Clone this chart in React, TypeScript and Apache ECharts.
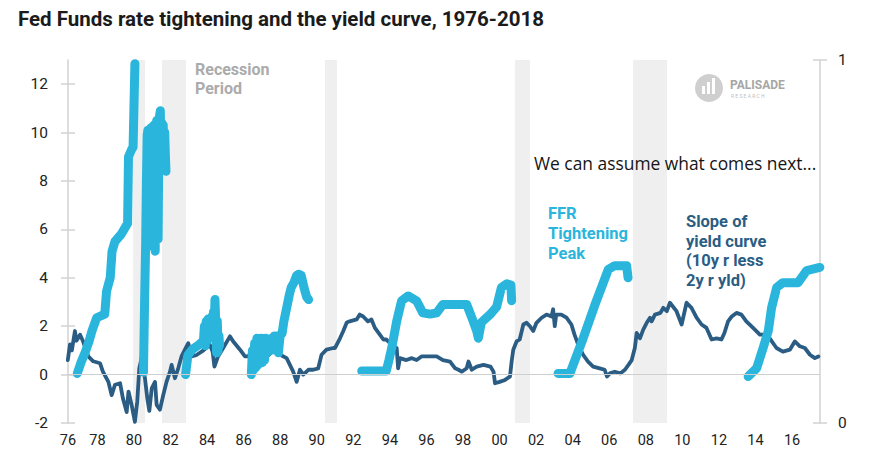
import React, { useEffect, useRef } from "react";
import * as echarts from "echarts";

const TITLE = "Fed Funds rate tightening and the yield curve, 1976-2018";
const X_MIN = 1976.39;
const X_MAX = 2017.53;
const xLabelYears = [1976.39, 1978, 1980, 1982, 1984, 1986, 1988, 1990, 1992, 1994, 1996, 1998, 2000, 2002, 2004, 2006, 2008, 2010, 2012, 2014, 2016];
const leftTicks = [-2, 0, 2, 4, 6, 8, 10, 12];
const rightTicks = [0, 1];

const recessionStarts = [1979.95, 1981.53, 1990.45, 2000.84, 2007.3];
const recessionEnds = [1980.6, 1982.85, 1991.1, 2001.66, 2009.16];

// Slope of yield curve (10y less 2y)
const spreadYears = [
  1976.38, 1976.5, 1976.6, 1976.77, 1976.85, 1977.05, 1977.2, 1977.5, 1977.77, 1978.14, 1978.3, 1978.6, 1978.78, 1978.96,
  1979.24, 1979.4, 1979.6, 1979.7, 1979.87, 1980.05, 1980.18, 1980.29, 1980.42, 1980.6, 1980.73, 1980.84, 1980.97,
  1981.15, 1981.24, 1981.42, 1981.6, 1981.78, 1981.97, 1982.06, 1982.24, 1982.42, 1982.6, 1982.8, 1982.97, 1983.15,
  1983.4, 1983.8, 1984.15, 1984.3, 1984.4, 1984.6, 1984.88, 1985.25, 1985.43, 1985.8, 1986.07, 1986.25, 1986.44,
  1986.8, 1987.2, 1987.5, 1987.8, 1988.0, 1988.35, 1988.71, 1988.9, 1989.08, 1989.26, 1989.54, 1989.8, 1990.08,
  1990.26, 1990.53, 1990.9, 1991.0, 1991.27, 1991.45, 1991.64, 1991.8, 1992.18, 1992.35, 1992.54, 1992.8, 1992.99,
  1993.18, 1993.45, 1993.64, 1993.8, 1994.1, 1994.37, 1994.45, 1994.55, 1994.9, 1995.2, 1995.46, 1995.73, 1996.0,
  1996.56, 1996.9, 1997.29, 1997.57, 1997.75, 1997.93, 1998.2, 1998.3, 1998.48, 1998.75, 1999.12, 1999.5, 1999.67,
  1999.75, 2000.0, 2000.3, 2000.57, 2000.66, 2000.75, 2000.93, 2001.1, 2001.3, 2001.48, 2001.66, 2001.84, 2002.02,
  2002.3, 2002.57, 2002.84, 2002.93, 2003.02, 2003.1, 2003.38, 2003.66, 2003.93, 2004.1, 2004.3, 2004.57, 2004.84,
  2005.12, 2005.48, 2005.75, 2005.88, 2006.03, 2006.3, 2006.6, 2006.86, 2007.05, 2007.23, 2007.4, 2007.5, 2007.68,
  2007.86, 2008.05, 2008.23, 2008.32, 2008.5, 2008.8, 2008.96, 2009.15, 2009.32, 2009.68, 2009.96, 2010.23, 2010.5,
  2010.78, 2011.05, 2011.32, 2011.6, 2011.87, 2012.14, 2012.3, 2012.5, 2012.7, 2012.96, 2013.23, 2013.5, 2013.87,
  2014.24, 2014.6, 2014.78, 2015.15, 2015.5, 2015.88, 2016.15, 2016.43, 2016.7, 2016.98, 2017.25, 2017.44
];
const spreadValues = [
  0.6, 1.25, 1.0, 1.8, 1.4, 1.65, 1.4, 0.75, 0.55, 0.47, 0.12, -0.3, -0.85, -0.42,
  -0.36, -1.0, -1.55, -0.7, -1.25, -1.95, -1.1, 0.26, 0.7, -0.15, -1.0, -1.5, -0.57,
  -0.3, -1.25, -1.45, -0.85, -0.3, 0.12, 0.4, -0.15, 0.26, 0.75, 1.05, 1.3, 0.75,
  0.8, 1.0, 1.24, 0.95, 0.33, 0.75, 1.1, 1.58, 1.37, 1.03, 0.75, 0.75, 0.95,
  0.9, 0.7, 0.9, 1.0, 0.82, 0.68, 0.12, -0.3, 0.2, 0.0, 0.2, 0.2, 0.26,
  0.82, 1.03, 1.1, 1.1, 1.5, 1.8, 2.15, 2.2, 2.28, 2.48, 2.4, 2.2, 2.28,
  1.93, 1.65, 1.45, 1.45, 1.24, 1.1, 0.26, 0.68, 0.6, 0.68, 0.6, 0.75, 0.75,
  0.75, 0.6, 0.54, 0.26, 0.2, 0.12, 0.26, 0.54, 0.2, 0.33, 0.4, 0.33, 0.12,
  -0.36, -0.3, -0.22, -0.08, 0.54, 1.03, 1.37, 1.45, 2.07, 2.14, 2.0, 1.8, 2.14,
  2.35, 2.48, 2.4, 2.7, 2.0, 2.48, 2.48, 2.35, 2.07, 1.65, 1.24, 0.82, 0.54,
  0.33, 0.26, 0.2, -0.08, 0.05, 0.12, 0.05, 0.2, 0.4, 0.6, 1.1, 1.72, 1.5,
  1.86, 2.14, 2.35, 2.2, 2.48, 2.55, 2.76, 2.62, 2.97, 2.62, 2.07, 2.97, 2.76,
  2.35, 2.07, 1.93, 1.45, 1.5, 1.45, 1.72, 2.2, 2.4, 2.55, 2.48, 2.2, 1.93,
  1.65, 1.65, 1.5, 1.1, 0.95, 1.03, 1.37, 1.17, 1.1, 0.82, 0.68, 0.75
];

// FFR tightening (change from cycle low); null separates cycles
const ffrYears = [
  1976.9, 1977.1, 1977.35, 1977.55, 1977.7, 1977.96, 1978.4, 1978.5, 1978.7, 1978.8, 1978.96, 1979.3, 1979.65, 1979.7,
  1979.87, 1979.95, 1980.05, 1980.3,
  1980.52, 1980.58, 1980.64, 1980.68, 1980.72, 1980.76, 1980.8, 1980.84, 1980.88, 1980.92, 1980.96, 1981.0, 1981.04,
  1981.08, 1981.12, 1981.16, 1981.2, 1981.24, 1981.28, 1981.32, 1981.36, 1981.4, 1981.44, 1981.48, 1981.52, 1981.56,
  1981.6, 1981.64, 1981.68, 1981.72, 1981.75, 1982.3,
  1982.82, 1982.95, 1983.2, 1983.5, 1983.8, 1983.85, 1983.9, 1983.95, 1984.0, 1984.05, 1984.1, 1984.15, 1984.2,
  1984.25, 1984.3, 1984.35, 1984.4, 1984.43, 1984.48, 1984.52, 1984.56, 1984.6, 1984.65, 1984.68, 1985.5,
  1986.42, 1986.48, 1986.54, 1986.6, 1986.66, 1986.72, 1986.78, 1986.84, 1986.9, 1986.96, 1987.02, 1987.08, 1987.14,
  1987.2, 1987.28, 1987.36, 1987.44, 1987.52, 1987.6, 1987.68, 1987.76, 1987.84, 1987.9, 1988.0, 1988.1, 1988.2,
  1988.35, 1988.5, 1988.6, 1988.75, 1988.9, 1989.0, 1989.15, 1989.3, 1989.45, 1989.55, 1991.0,
  1992.46, 1993.8, 1993.95, 1994.1, 1994.37, 1994.64, 1995.0, 1995.46, 1995.8, 1996.2, 1996.56, 1996.9, 1997.3,
  1998.2, 1998.56, 1998.75, 1998.84, 1999.0, 1999.5, 1999.84, 2000.1, 2000.4, 2000.62, 2000.66, 2002.0,
  2003.2, 2003.85, 2004.5, 2005.2, 2005.95, 2006.3, 2006.95, 2007.03, 2010.0,
  2013.6, 2014.06, 2014.42, 2014.7, 2014.88, 2015.16, 2015.5, 2016.33, 2016.8, 2017.52
];
const ffrChange = [
  0.05, 0.5, 0.96, 1.4, 1.8, 2.35, 2.5, 3.45, 4.0, 5.1, 5.5, 5.8, 6.25, 9.0,
  9.3, 9.4, 12.85, null,
  0.1, 3.0, 5.5, 8.0, 9.9, 10.1, 7.5, 5.5, 9.5, 10.2, 6.5, 5.3, 9.0,
  10.3, 7.0, 5.1, 8.5, 10.5, 7.5, 5.6, 9.5, 10.7, 10.9, 9.0, 10.4, 8.6,
  10.3, 8.8, 10.0, 9.0, 8.4, null,
  0.0, 0.8, 1.05, 1.2, 1.4, 2.0, 1.2, 2.2, 1.4, 2.3, 1.5, 2.2, 1.6,
  2.4, 1.8, 2.6, 2.2, 3.1, 2.0, 0.9, 2.2, 1.0, 1.6, 1.2, null,
  0.0, 1.0, 0.2, 1.3, 0.3, 1.5, 0.4, 1.4, 0.6, 1.5, 0.5, 1.2, 0.6,
  1.5, 0.9, 1.4, 1.0, 1.5, 1.1, 1.6, 1.0, 1.6, 0.9, 1.65, 1.7, 2.2,
  2.75, 3.3, 3.6, 3.8, 4.1, 4.15, 4.1, 3.6, 3.2, 3.1, null,
  0.15, 0.15, 0.6, 1.1, 2.2, 3.05, 3.25, 3.05, 2.55, 2.5, 2.55, 2.9, 2.9,
  2.9, 2.2, 1.8, 1.5, 2.15, 2.5, 2.8, 3.6, 3.75, 3.7, 3.05, null,
  0.05, 0.05, 1.35, 2.85, 4.35, 4.5, 4.5, 4.0, null,
  -0.08, 0.26, 1.1, 1.8, 2.76, 3.6, 3.8, 3.8, 4.3, 4.43
];

const DARK = "#2b5d84";
const LIGHT = "#2ab6dc";
const AXIS_GREY = "#d2d2d2";

export default function App() {
  const ref = useRef<HTMLDivElement>(null);

  useEffect(() => {
    if (!ref.current) return;
    document.body.style.margin = "0";
    const chart = echarts.init(ref.current, undefined, { renderer: "svg" });

    const spreadData = spreadYears.map((y, i) => [y, spreadValues[i]]);
    const ffrData = ffrYears.map((y, i) => [y, ffrChange[i] === null ? "-" : ffrChange[i]]);

    const option: any = {
      animation: false,
      backgroundColor: "#ffffff",
      textStyle: { fontFamily: "Roboto" },
      grid: { left: 68, right: 50, top: 60, bottom: 53, containLabel: false },
      xAxis: {
        type: "value",
        min: X_MIN,
        max: X_MAX,
        axisLine: { show: false },
        axisTick: { show: false },
        splitLine: { show: false },
        axisLabel: {
          customValues: xLabelYears,
          formatter: (v: number) => String(Math.round(v) % 100).padStart(2, "0"),
          color: "#222",
          fontSize: 14.5,
          fontFamily: "Roboto",
          margin: 10,
        },
      },
      yAxis: [
        {
          type: "value",
          position: "left",
          min: -2,
          max: 13,
          axisLine: { show: true, lineStyle: { color: AXIS_GREY, width: 1.5 } },
          axisTick: { show: true, length: 7, lineStyle: { color: AXIS_GREY, width: 1.5 }, customValues: leftTicks },
          axisLabel: { customValues: leftTicks, color: "#222", fontSize: 15.5, fontFamily: "Roboto", margin: 20 },
          splitLine: { show: false },
        },
        {
          type: "value",
          position: "right",
          min: 0,
          max: 1,
          axisLine: { show: true, lineStyle: { color: AXIS_GREY, width: 1.5 } },
          axisTick: { show: true, length: 7, lineStyle: { color: AXIS_GREY, width: 1.5 }, customValues: rightTicks },
          axisLabel: { customValues: rightTicks, color: "#222", fontSize: 15.5, fontFamily: "Roboto", margin: 18 },
          splitLine: { show: false },
        },
        {
          type: "value",
          position: "left",
          min: -2,
          max: 13,
          axisLine: { show: false },
          axisTick: { show: true, inside: true, length: 7, lineStyle: { color: AXIS_GREY, width: 1.5 }, customValues: leftTicks },
          axisLabel: { show: false },
          splitLine: { show: false },
        },
        {
          type: "value",
          position: "right",
          min: 0,
          max: 1,
          axisLine: { show: false },
          axisTick: { show: true, inside: true, length: 7, lineStyle: { color: AXIS_GREY, width: 1.5 }, customValues: rightTicks },
          axisLabel: { show: false },
          splitLine: { show: false },
        },
      ],
      series: [
        {
          name: "Recessions",
          type: "line",
          data: [],
          z: 1,
          silent: true,
          markArea: {
            silent: true,
            itemStyle: { color: "#efefef" },
            data: recessionStarts.map((s, i) => [{ xAxis: s }, { xAxis: recessionEnds[i] }]),
          },
        },
        {
          name: "Zero",
          type: "line",
          data: [],
          z: 2,
          silent: true,
          markLine: {
            silent: true,
            symbol: "none",
            label: { show: false },
            lineStyle: { color: "#cfcfcf", width: 1.2, type: "solid" },
            data: [{ yAxis: 0 }],
          },
        },
        {
          name: "Slope of yield curve",
          type: "line",
          data: spreadData,
          z: 3,
          symbol: "none",
          clip: false,
          lineStyle: { color: DARK, width: 3.8, join: "round", cap: "round" },
        },
        {
          name: "FFR Tightening",
          type: "line",
          data: ffrData,
          z: 4,
          symbol: "none",
          clip: false,
          connectNulls: false,
          lineStyle: { color: LIGHT, width: 9, join: "round", cap: "round" },
        },
      ],
      graphic: [
        {
          type: "text",
          left: 18,
          top: 8,
          z: 100,
          style: { text: TITLE, font: "bold 20.5px Roboto", fill: "#1b1b1b" },
        },
        {
          type: "text",
          left: 195,
          top: 60,
          z: 100,
          style: { text: "Recession\nPeriod", font: "bold 16px Roboto", fill: "#ababab", lineHeight: 19 },
        },
        {
          type: "text",
          left: 534,
          top: 154,
          z: 100,
          style: { text: "We can assume what comes next...", font: "17.4px 'Open Sans'", fill: "#151515" },
        },
        {
          type: "text",
          left: 548,
          top: 203,
          z: 100,
          style: { text: "FFR\nTightening\nPeak", font: "bold 16.5px Roboto", fill: LIGHT, lineHeight: 20 },
        },
        {
          type: "text",
          left: 686,
          top: 212,
          z: 100,
          style: { text: "Slope of\nyield curve\n(10y r less\n2y r yld)", font: "bold 16.5px Roboto", fill: DARK, lineHeight: 19.5 },
        },
        {
          type: "circle",
          z: 100,
          shape: { cx: 709, cy: 88, r: 14 },
          style: { fill: "#cfcfcf" },
        },
        {
          type: "rect",
          z: 101,
          shape: { x: 702, y: 86, width: 3, height: 8 },
          style: { fill: "#ffffff" },
        },
        {
          type: "rect",
          z: 101,
          shape: { x: 707, y: 82, width: 3, height: 12 },
          style: { fill: "#ffffff" },
        },
        {
          type: "rect",
          z: 101,
          shape: { x: 712, y: 78, width: 3, height: 16 },
          style: { fill: "#ffffff" },
        },
        {
          type: "text",
          left: 730,
          top: 79,
          z: 100,
          style: { text: "PALISADE", font: "bold 12px Roboto", fill: "#a6a6a6" },
        },
        {
          type: "text",
          left: 731,
          top: 93,
          z: 100,
          style: { text: "R E S E A R C H", font: "5px Roboto", fill: "#c0c0c0" },
        },
      ],
    };

    chart.setOption(option);
    return () => chart.dispose();
  }, []);

  return <div ref={ref} style={{ width: 870, height: 476 }} />;
}
